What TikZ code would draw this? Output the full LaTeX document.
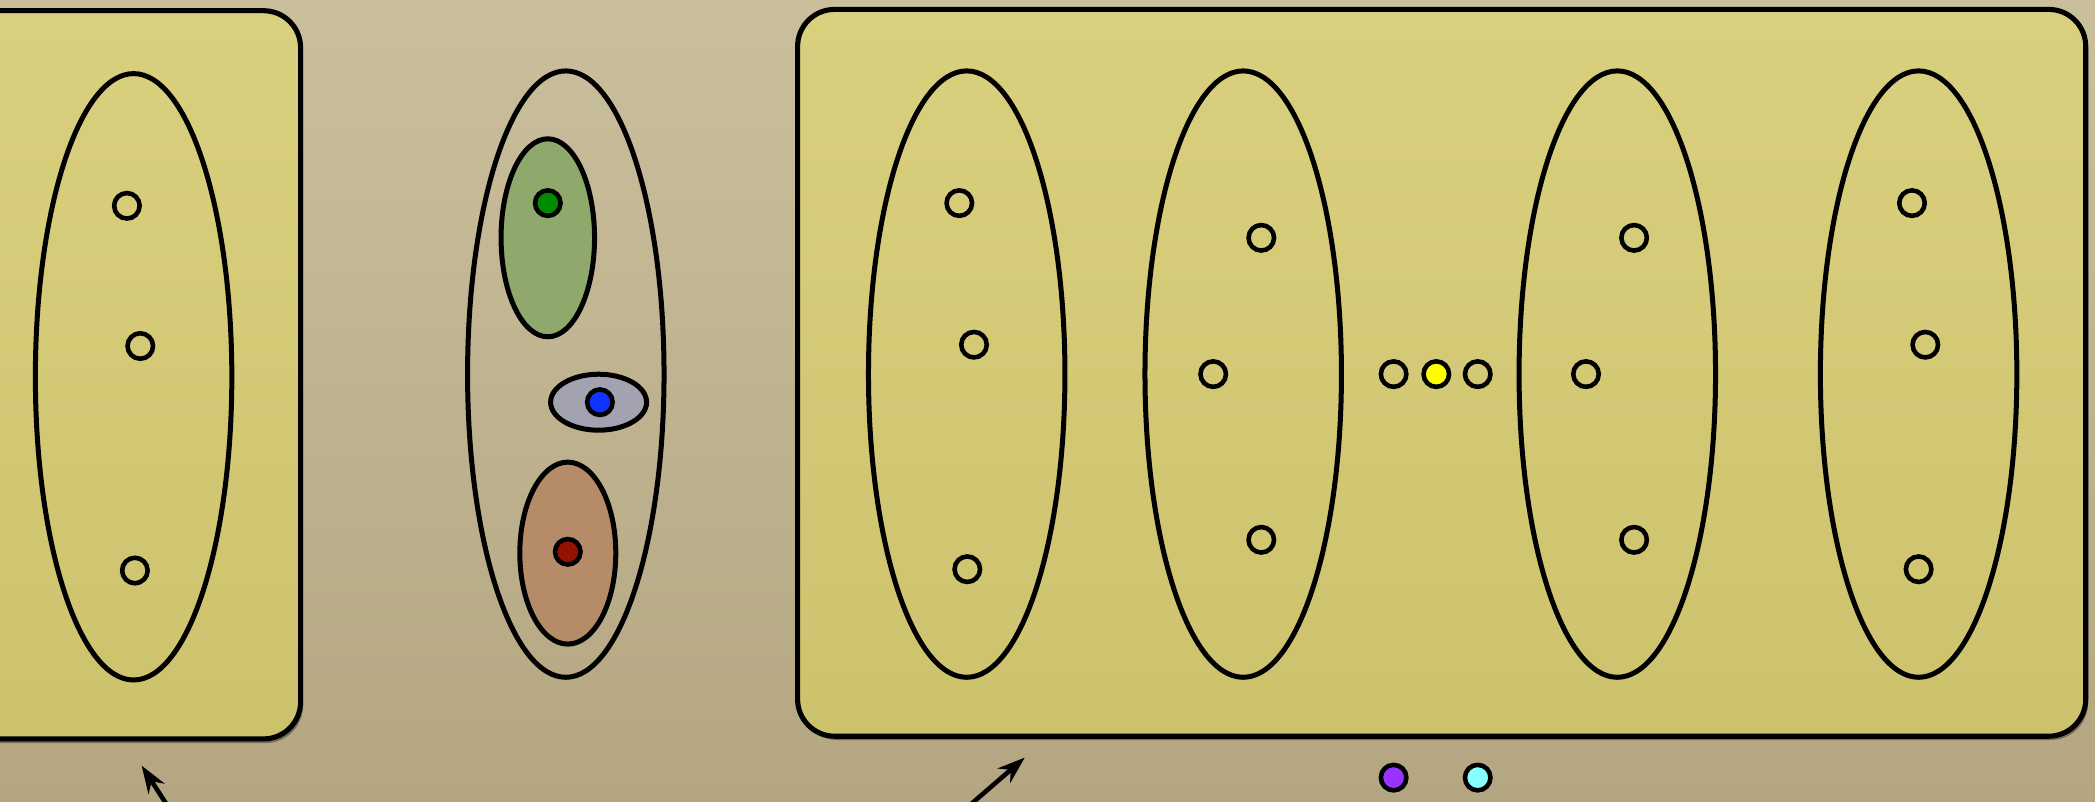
\documentclass[tikz,border=0pt]{standalone}
\usetikzlibrary{shapes.geometric,arrows.meta}
\definecolor{bgtop}{HTML}{CABF9D}
\definecolor{bgbot}{HTML}{B4A681}
\definecolor{boxtop}{HTML}{D9D07F}
\definecolor{boxbot}{HTML}{CDC26C}
\definecolor{greenfill}{HTML}{8FA86B}
\definecolor{bluefill}{HTML}{A3A2B0}
\definecolor{redfill}{HTML}{B68B67}
\definecolor{dotgreen}{HTML}{008C00}
\definecolor{dotblue}{HTML}{1034FF}
\definecolor{dotred}{HTML}{961200}
\definecolor{dotyellow}{HTML}{FFFF00}
\definecolor{dotpurple}{HTML}{9933FF}
\definecolor{dotcyan}{HTML}{88FFFF}
\tikzset{
  setbox/.style={draw=black, line width=2.9pt, rounded corners=0.74cm, top color=boxtop, bottom color=boxbot},
  boxshadow/.style={fill=black, fill opacity=0.35, rounded corners=0.74cm},
  bigell/.style={ellipse, draw=black, line width=2.85pt, inner sep=0pt, minimum width=3.93cm, minimum height=12.13cm},
  subell/.style={ellipse, draw=black, line width=2.85pt, inner sep=0pt},
  pt/.style={circle, draw=black, line width=2.6pt, inner sep=0pt, minimum size=0.51cm},
  ptr/.style={line width=2.6pt, -{Stealth[length=0.55cm,width=0.38cm]}}
}
\begin{document}
\begin{tikzpicture}[x=0.02cm,y=-0.02cm]
\useasboundingbox (0,0) rectangle (2095,801);
\shade[top color=bgtop, bottom color=bgbot] (0,0) rectangle (2095,801);
% box shadows
\path[boxshadow] (-58,14) rectangle (303,743);
\path[boxshadow] (800,13) rectangle (2088,740);
% boxes
\path[setbox] (-60,10.7) rectangle (300.6,738.9);
\path[setbox] (797.6,9.4) rectangle (2085.7,736.2);
% left ellipse
\node[bigell] (L) at (133.6,376.8) {};
\node[pt] (l1) at (126.9,205.8) {};
\node[pt] (l2) at (140.3,346) {};
\node[pt] (l3) at (134.9,570.5) {};
% middle ellipse
\node[bigell] (M) at (565.8,374.1) {};
\node[subell, fill=greenfill, minimum width=1.87cm, minimum height=3.96cm] (G) at (547.8,237.8) {};
\node[subell, fill=bluefill, minimum width=1.92cm, minimum height=1.12cm] (B) at (598.6,402.2) {};
\node[subell, fill=redfill, minimum width=1.92cm, minimum height=3.64cm] (R) at (567.8,553.1) {};
\node[pt, fill=dotgreen] (g1) at (547.8,203.1) {};
\node[pt, fill=dotblue] (b1) at (599.9,402.2) {};
\node[pt, fill=dotred] (r1) at (567.8,551.8) {};
% right ellipses
\node[bigell] (E1) at (966.7,374.1) {};
\node[bigell] (E2) at (1243.2,374.1) {};
\node[bigell] (E3) at (1617.3,374.1) {};
\node[bigell] (E4) at (1918.6,374.1) {};
\node[pt] (a1) at (959.3,203.1) {};
\node[pt] (a2) at (974,344.7) {};
\node[pt] (a3) at (967.3,569.2) {};
\node[pt] (c1) at (1261.3,237.8) {};
\node[pt] (c2) at (1213.2,374.1) {};
\node[pt] (c3) at (1261.3,539.8) {};
\node[pt] (m1) at (1393.6,374.1) {};
\node[pt, fill=dotyellow] (m2) at (1436.3,374.1) {};
\node[pt] (m3) at (1477.7,374.1) {};
\node[pt] (d1) at (1634.1,237.8) {};
\node[pt] (d2) at (1586,374.1) {};
\node[pt] (d3) at (1634.1,539.8) {};
\node[pt] (e1) at (1912,203.1) {};
\node[pt] (e2) at (1925.3,344.7) {};
\node[pt] (e3) at (1918.6,569.2) {};
% bottom dots
\node[pt, fill=dotpurple] (p1) at (1393.6,777.6) {};
\node[pt, fill=dotcyan] (p2) at (1477.7,777.6) {};
% arrows
\coordinate (s1) at (167,805);
\coordinate (t1) at (141.6,765.6);
\coordinate (s2) at (970,805);
\coordinate (t2) at (1024.8,757.6);
\draw[ptr] (s1) -- (t1);
\draw[ptr] (s2) -- (t2);
\end{tikzpicture}
\end{document}
